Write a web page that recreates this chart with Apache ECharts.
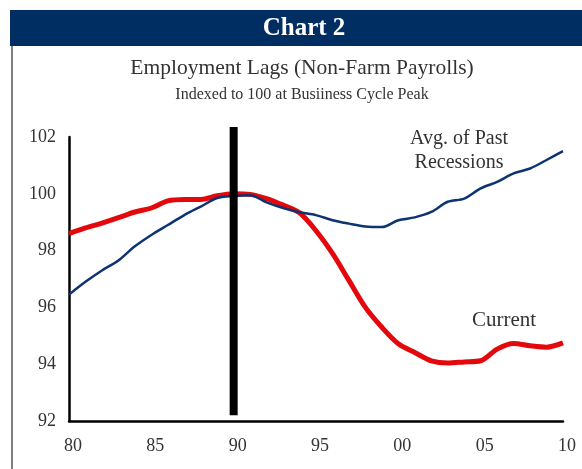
<!DOCTYPE html>
<html>
<head>
<meta charset="utf-8">
<style>
  html, body { margin: 0; padding: 0; background: #fff; }
  #chart { width: 582px; height: 469px; }
</style>
<script src="https://cdn.jsdelivr.net/npm/echarts@6/dist/echarts.min.js"></script>
</head>
<body>
<div id="chart"></div>
<script>
// Years 1980..2010 (axis labels show two digits)
const years = [80, 81, 82, 83, 84, 85, 86, 87, 88, 89, 90, 91, 92, 93, 94, 95,
  96, 97, 98, 99, 100, 101, 102, 103, 104, 105, 106, 107, 108, 109, 110];

const avgPast = [96.45, 96.9, 97.3, 97.65, 98.15, 98.55, 98.9, 99.25, 99.55, 99.85,
  99.92, 99.95, 99.7, 99.5, 99.35, 99.25, 99.07, 98.95, 98.85, 98.83,
  99.07, 99.17, 99.36, 99.72, 99.83, 100.19, 100.42, 100.72, 100.89, 101.19, 101.5];

const current = [98.6, 98.8, 98.97, 99.16, 99.36, 99.5, 99.75, 99.8, 99.8, 99.93,
  100.0, 99.98, 99.83, 99.6, 99.33, 98.7, 97.9, 96.95, 96.0, 95.3,
  94.72, 94.41, 94.12, 94.04, 94.08, 94.12, 94.53, 94.73, 94.65, 94.6, 94.75];

const peakYear = 90;
const peakBar = [102.35, 92.2];

const xTicks = [80, 85, 90, 95, 100, 105, 110];
const yTicks = [92, 94, 96, 98, 100, 102];

const NAVY = "#002d62";
const BLUE = "#0d3470";
const RED = "#e3080c";
const TEXT = "#333";
const SERIF = "'Liberation Serif', 'DejaVu Serif', serif";

const chart = echarts.init(document.getElementById("chart"));

chart.setOption({
  animation: false,
  grid: { left: 69, right: 19, top: 137, bottom: 48 },
  xAxis: {
    type: "value",
    min: xTicks[0],
    max: xTicks[xTicks.length - 1],
    interval: 5,
    axisLine: { lineStyle: { color: "#000", width: 2.5 } },
    axisTick: { show: false },
    splitLine: { show: false },
    axisLabel: {
      color: TEXT,
      fontFamily: SERIF,
      fontSize: 18,
      margin: 16,
      padding: [0, 0, 0, 8],
      formatter: (v) => String(v % 100).padStart(2, "0"),
    },
  },
  yAxis: {
    type: "value",
    min: yTicks[0],
    max: yTicks[yTicks.length - 1],
    interval: 2,
    axisLine: { show: true, lineStyle: { color: "#000", width: 2.5 } },
    axisTick: { show: false },
    splitLine: { show: false },
    axisLabel: { color: TEXT, fontFamily: SERIF, fontSize: 18, margin: 13 },
  },
  graphic: [
    { type: "rect", left: 10, top: 10, shape: { width: 572, height: 36 }, style: { fill: NAVY } },
    { type: "line", shape: { x1: 12, y1: 46, x2: 12, y2: 469 }, style: { stroke: "#555", lineWidth: 1.5 } },
    {
      type: "text", x: 304, y: 29,
      style: { text: "Chart 2", fill: "#fff", font: "bold 25px " + SERIF, textAlign: "center", textVerticalAlign: "middle" },
    },
    {
      type: "text", x: 302, y: 68,
      style: { text: "Employment Lags (Non-Farm Payrolls)", fill: TEXT, font: "21.5px " + SERIF, textAlign: "center", textVerticalAlign: "middle" },
    },
    {
      type: "text", x: 302, y: 95,
      style: { text: "Indexed to 100 at Busiiness Cycle Peak", fill: TEXT, font: "16px " + SERIF, textAlign: "center", textVerticalAlign: "middle" },
    },
    {
      type: "text", x: 459, y: 151,
      style: { text: "Avg. of Past\nRecessions", fill: TEXT, font: "20px " + SERIF, textAlign: "center", textVerticalAlign: "middle", lineHeight: 24 },
    },
    {
      type: "text", x: 504, y: 320,
      style: { text: "Current", fill: TEXT, font: "21px " + SERIF, textAlign: "center", textVerticalAlign: "middle" },
    },
  ],
  series: [
    {
      name: "Avg. of Past Recessions",
      type: "line",
      data: years.map((y, i) => [y, avgPast[i]]),
      smooth: 0.3,
      symbol: "none",
      lineStyle: { color: BLUE, width: 2.5 },
      z: 3,
    },
    {
      name: "Current",
      type: "line",
      data: years.map((y, i) => [y, current[i]]),
      smooth: 0.3,
      symbol: "none",
      lineStyle: { color: RED, width: 5 },
      z: 2,
    },
    {
      name: "Peak",
      type: "line",
      data: peakBar.map((v) => [peakYear, v]),
      symbol: "none",
      clip: false,
      lineStyle: { color: "#000", width: 8, cap: "butt" },
      z: 4,
    },
  ],
});
</script>
</body>
</html>
